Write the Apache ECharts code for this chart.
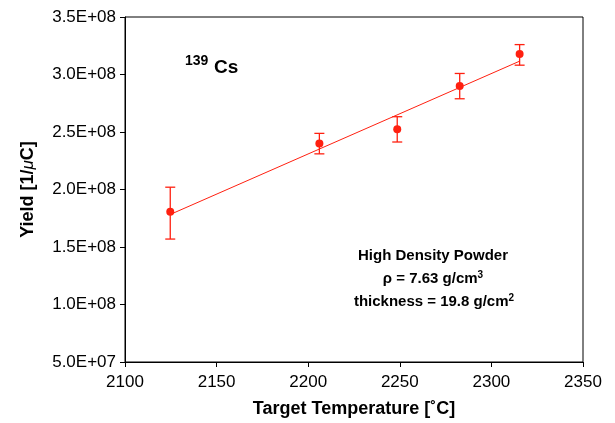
<!DOCTYPE html>
<html>
<head>
<meta charset="utf-8">
<script src="https://cdn.jsdelivr.net/npm/echarts@6/dist/echarts.min.js"></script>
<style>
	html, body { margin: 0; padding: 0; background: #fff; }
	#main { width: 615px; height: 423px; }
</style>
</head>
<body>
<div id="main"></div>
<script>
	var temps = [2124.7, 2206.1, 2248.6, 2282.7, 2315.4];
	var yields = [1.807e8, 2.399e8, 2.523e8, 2.899e8, 3.179e8];
	var errLow = [1.569e8, 2.31e8, 2.413e8, 2.789e8, 3.081e8];
	var errHigh = [2.02e8, 2.488e8, 2.633e8, 3.009e8, 3.26e8];
	// 拟合直线端点
	var fitX = [2124.7, 2315.4];
	var fitY = [1.783e8, 3.116e8];
	var xTicks = [2100, 2150, 2200, 2250, 2300, 2350];
	var yTicks = [5e7, 1e8, 1.5e8, 2e8, 2.5e8, 3e8, 3.5e8];

	var red = '#ff2010';
	var font = 'Liberation Sans, Arial, sans-serif';

	var pts = [], errs = [], fit = [];
	for (var i = 0; i < temps.length; i++) {
		pts.push([temps[i], yields[i]]);
		errs.push([temps[i], errLow[i], errHigh[i]]);
	}
	for (var j = 0; j < fitX.length; j++) {
		fit.push([fitX[j], fitY[j]]);
	}

	function sciFmt(v) {
		var s = v.toExponential(1).split('e');
		var e = parseInt(s[1], 10);
		var sign = e < 0 ? '-' : '+';
		e = Math.abs(e);
		return s[0] + 'E' + sign + (e < 10 ? '0' + e : e);
	}

	var chart = echarts.init(document.getElementById('main'));
	var option = {
		backgroundColor: '#fff',
		animation: false,
		grid: {
			left: 125,
			right: 32,
			top: 17,
			bottom: 60,
			show: true,
			borderColor: '#000',
			borderWidth: 1
		},
		xAxis: {
			type: 'value',
			min: xTicks[0],
			max: xTicks[xTicks.length - 1],
			interval: 50,
			name: 'Target Temperature [˚C]',
			nameLocation: 'middle',
			nameGap: 38,
			nameTextStyle: {
				fontFamily: font,
				fontWeight: 'bold',
				fontSize: 18,
				color: '#000'
			},
			axisLine: { show: true, lineStyle: { color: '#000', width: 1 } },
			axisTick: { show: true, length: 5, lineStyle: { color: '#000' } },
			splitLine: { show: false },
			axisLabel: {
				color: '#000',
				fontFamily: font,
				fontSize: 17,
				margin: 12,
				formatter: function(v) {
					return String(v);
				}
			}
		},
		yAxis: {
			type: 'value',
			min: yTicks[0],
			max: yTicks[yTicks.length - 1],
			interval: 5e7,
			name: 'Yield [1/{mu|μ}C]',
			nameLocation: 'middle',
			nameGap: 88,
			nameTextStyle: {
				fontFamily: font,
				fontWeight: 'bold',
				fontSize: 18,
				color: '#000',
				rich: {
					mu: {
						fontFamily: font,
						fontStyle: 'italic',
						fontWeight: 'normal',
						fontSize: 17,
						color: '#000'
					}
				}
			},
			axisLine: { show: true, lineStyle: { color: '#000', width: 1 } },
			axisTick: { show: true, length: 5, lineStyle: { color: '#000' } },
			splitLine: { show: false },
			axisLabel: {
				color: '#000',
				fontFamily: font,
				fontSize: 17,
				margin: 9,
				formatter: sciFmt
			}
		},
		series: [{
				type: 'line',
				data: fit,
				showSymbol: false,
				symbol: 'none',
				lineStyle: { color: red, width: 1 },
				z: 2
			},
			{
				type: 'custom',
				data: errs,
				z: 3,
				renderItem: function(params, api) {
					var x = api.value(0);
					var lo = api.coord([x, api.value(1)]);
					var hi = api.coord([x, api.value(2)]);
					var w = 5;
					var st = { stroke: red, lineWidth: 1.3 };
					return {
						type: 'group',
						children: [{
								type: 'line',
								shape: { x1: lo[0], y1: lo[1], x2: hi[0], y2: hi[1] },
								style: st
							},
							{
								type: 'line',
								shape: { x1: lo[0] - w, y1: lo[1], x2: lo[0] + w, y2: lo[1] },
								style: st
							},
							{
								type: 'line',
								shape: { x1: hi[0] - w, y1: hi[1], x2: hi[0] + w, y2: hi[1] },
								style: st
							}
						]
					};
				}
			},
			{
				type: 'scatter',
				data: pts,
				symbol: 'circle',
				symbolSize: 8,
				itemStyle: { color: red, opacity: 1 },
				z: 4
			}
		],
		graphic: [{
				type: 'text',
				left: 185,
				top: 54,
				style: {
					text: '139',
					font: 'bold 14px ' + font,
					fill: '#000'
				}
			},
			{
				type: 'text',
				left: 214,
				top: 58,
				style: {
					text: 'Cs',
					font: 'bold 19px ' + font,
					fill: '#000'
				}
			},
			{
				type: 'text',
				x: 433,
				y: 256,
				style: {
					text: 'High Density Powder',
					font: 'bold 15px ' + font,
					fill: '#000',
					align: 'center',
					verticalAlign: 'middle'
				}
			},
			{
				type: 'text',
				x: 433,
				y: 279,
				style: {
					text: 'ρ = 7.63 g/cm{sup|3}',
					font: 'bold 15px ' + font,
					fill: '#000',
					align: 'center',
					verticalAlign: 'middle',
					rich: {
						sup: {
							font: 'bold 10px ' + font,
							fill: '#000',
							verticalAlign: 'top',
							padding: [0, 0, 7, 0]
						}
					}
				}
			},
			{
				type: 'text',
				x: 434,
				y: 302,
				style: {
					text: 'thickness = 19.8 g/cm{sup|2}',
					font: 'bold 15px ' + font,
					fill: '#000',
					align: 'center',
					verticalAlign: 'middle',
					rich: {
						sup: {
							font: 'bold 10px ' + font,
							fill: '#000',
							verticalAlign: 'top',
							padding: [0, 0, 7, 0]
						}
					}
				}
			}
		]
	};
	chart.setOption(option);
</script>
</body>
</html>
